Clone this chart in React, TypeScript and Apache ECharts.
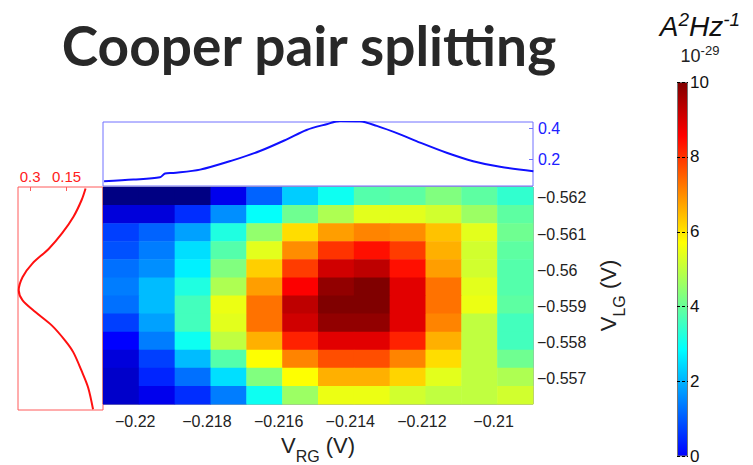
import React, { useEffect, useRef } from "react";
import * as echarts from "echarts";

// ---- Data ----
const vrgCenters = [-0.2204, -0.2194, -0.2184, -0.2174, -0.2164, -0.2154, -0.2144, -0.2134, -0.2124, -0.2114, -0.2104, -0.2094];
const vlgCenters = [-0.56205, -0.56155, -0.56105, -0.56055, -0.56005, -0.55955, -0.55905, -0.55855, -0.55805, -0.55755, -0.55705, -0.55655];
// noise (1e-29 A^2/Hz), rows top (-0.562) to bottom (-0.557), columns left to right
const noise = [
  [-1.4, -1.4, -1.4, -0.2, 1.1, 2.3, 3.0, 3.8, 3.9, 4.3, 3.9, 3.4],
  [-0.4, -0.4, 0.5, 1.6, 2.9, 4.1, 4.8, 5.4, 5.4, 5.2, 4.6, 3.9],
  [0.7, 1.1, 1.8, 3.2, 4.5, 6.1, 6.8, 7.1, 7.0, 6.4, 5.4, 4.1],
  [0.9, 1.4, 2.5, 3.8, 5.4, 7.0, 8.0, 8.4, 7.9, 6.6, 5.2, 3.9],
  [1.25, 1.6, 2.7, 4.3, 6.25, 7.9, 9.1, 9.3, 8.4, 6.8, 5.2, 3.8],
  [1.4, 2.1, 3.2, 4.8, 6.8, 8.6, 9.8, 10.0, 8.9, 7.3, 5.4, 3.8],
  [1.25, 2.1, 3.6, 5.5, 7.3, 9.3, 10.0, 10.0, 8.9, 7.3, 5.5, 3.9],
  [0.7, 1.8, 3.6, 5.4, 7.3, 9.1, 9.8, 9.8, 8.9, 7.1, 5.0, 3.6],
  [0.0, 1.4, 3.0, 5.0, 6.6, 8.2, 8.9, 8.9, 8.2, 6.6, 5.0, 3.6],
  [-0.4, 0.7, 2.1, 3.8, 5.7, 7.1, 7.7, 7.7, 7.1, 6.1, 5.0, 4.1],
  [-0.6, 0.4, 1.25, 2.5, 4.3, 5.7, 6.6, 6.6, 6.2, 5.4, 5.0, 4.8],
  [-0.6, -0.2, 0.5, 1.4, 3.0, 4.6, 5.5, 5.5, 5.2, 5.0, 5.0, 5.2],
];
// top profile (blue) vs V_RG
const topX = [-0.22087, -0.22005, -0.21931, -0.21917, -0.21894, -0.21819, -0.21726, -0.21652, -0.21577, -0.21522, -0.21466, -0.21429, -0.21373, -0.21326, -0.21261, -0.21205, -0.21131, -0.21057, -0.20982, -0.20889];
const topY = [0.06, 0.071, 0.086, 0.11, 0.114, 0.135, 0.196, 0.254, 0.329, 0.389, 0.426, 0.447, 0.445, 0.415, 0.361, 0.308, 0.243, 0.189, 0.153, 0.125];
// left profile (red) vs V_LG
const leftY = [-0.56226, -0.56195, -0.5615, -0.56105, -0.56064, -0.56024, -0.55988, -0.55952, -0.55925, -0.55893, -0.55857, -0.55816, -0.55785, -0.55735, -0.5569, -0.55632];
const leftX = [0.0718, 0.088, 0.1216, 0.169, 0.223, 0.291, 0.331, 0.347, 0.331, 0.277, 0.21, 0.155, 0.122, 0.088, 0.061, 0.041];
const vrgTicks = [-0.22, -0.218, -0.216, -0.214, -0.212, -0.21];
const vlgTicks = [-0.562, -0.561, -0.56, -0.559, -0.558, -0.557];
const topTicks = [0.2, 0.4];
const leftTicks = [0.15, 0.3];
const colorbarMax = [10];

const JET = ["#000080", "#0000ff", "#0080ff", "#00ffff", "#80ff80", "#ffff00", "#ff8000", "#ff0000", "#800000"];
const FONT = "'Liberation Sans', Arial, sans-serif";
const fmt = (v: number) => String(+v.toFixed(4)).replace("-", "\u2212");

export default function App() {
  const ref = useRef<HTMLDivElement>(null);
  useEffect(() => {
    if (!ref.current) return;
    const chart = echarts.init(ref.current, null, { renderer: "svg" });
    const heatData: number[][] = [];
    noise.forEach((row, r) => row.forEach((v, c) => heatData.push([vrgCenters[c], vlgCenters[r], v])));
    const dx = 0.001, dy = 0.0005;
    const barStops = JET.slice(1).map((c, i) => ({ offset: i / (JET.length - 2), color: c }));

    chart.setOption({
      animation: false,
      backgroundColor: "#ffffff",
      grid: [
        { left: 103, top: 187, width: 430, height: 222, show: true, borderColor: "#555", borderWidth: 1 },
        { left: 103, top: 122, width: 430, height: 64, show: true, borderColor: "#7070ff", borderWidth: 1 },
        { left: 18, top: 187, width: 85, height: 223, show: true, borderColor: "#ff5a5a", borderWidth: 1 },
        { left: 677, top: 82, width: 11, height: 378 },
      ],
      xAxis: [
        {
          gridIndex: 0, type: "value", min: -0.2209, max: -0.2089,
          axisLine: { show: false }, axisTick: { show: false }, splitLine: { show: false },
          axisLabel: { customValues: vrgTicks, formatter: fmt, color: "#222", fontSize: 16, fontFamily: FONT, margin: 9 },
          name: "{a|V}{b|RG}{a| (V)}", nameLocation: "middle", nameGap: 30,
          nameTextStyle: {
            rich: {
              a: { fontSize: 22, fontFamily: FONT, color: "#222", lineHeight: 24, verticalAlign: "top" },
              b: { fontSize: 16, fontFamily: FONT, color: "#222", lineHeight: 24, padding: [14, 0, 0, 0], verticalAlign: "top" },
            },
          },
        },
        {
          gridIndex: 1, type: "value", min: -0.2209, max: -0.2089,
          axisLine: { show: false }, axisTick: { show: false }, axisLabel: { show: false }, splitLine: { show: false },
        },
        {
          gridIndex: 2, type: "value", min: 0, max: 0.35, inverse: true, position: "top",
          axisLine: { show: false }, splitLine: { show: false },
          axisTick: { show: true, inside: true, length: 4, customValues: leftTicks, lineStyle: { color: "#ff5a5a" } },
          axisLabel: { customValues: leftTicks, color: "#ff2020", fontSize: 15, fontFamily: FONT, margin: 3 },
        },
        {
          gridIndex: 3, type: "category", data: ["c"], show: false,
        },
      ],
      yAxis: [
        {
          gridIndex: 0, type: "value", min: -0.5623, max: -0.5563, inverse: true, position: "right",
          axisLine: { show: false }, axisTick: { show: false }, splitLine: { show: false },
          axisLabel: { customValues: vlgTicks, formatter: fmt, color: "#222", fontSize: 16, fontFamily: FONT, margin: 4 },
          name: "{a|V}{b|LG}{a| (V)}", nameLocation: "middle", nameRotate: 90, nameGap: 62,
          nameTextStyle: {
            rich: {
              a: { fontSize: 22, fontFamily: FONT, color: "#222", lineHeight: 24, verticalAlign: "top" },
              b: { fontSize: 16, fontFamily: FONT, color: "#222", lineHeight: 24, padding: [14, 0, 0, 0], verticalAlign: "top" },
            },
          },
        },
        {
          gridIndex: 1, type: "value", min: 0.03, max: 0.44, position: "right",
          axisLine: { show: false }, splitLine: { show: false },
          axisTick: { show: true, inside: true, length: 4, customValues: topTicks, lineStyle: { color: "#7070ff" } },
          axisLabel: { customValues: topTicks, color: "#2020ff", fontSize: 16, fontFamily: FONT, margin: 5 },
        },
        {
          gridIndex: 2, type: "value", min: -0.5623, max: -0.5563, inverse: true,
          axisLine: { show: false }, axisTick: { show: false }, axisLabel: { show: false }, splitLine: { show: false },
        },
        {
          gridIndex: 3, type: "value", min: 0, max: 10, interval: 2, position: "right", z: 10,
          axisLine: { show: false }, axisTick: { show: false },
          splitLine: { show: true, lineStyle: { color: "#000", type: [3, 2], width: 1 } },
          axisLabel: { color: "#111", fontSize: 17, fontFamily: FONT, margin: 2 },
        },
      ],
      visualMap: {
        type: "continuous", show: false, min: -1.4286, max: 10, dimension: 2, seriesIndex: 0,
        inRange: { color: JET },
      },
      series: [
        {
          type: "custom", xAxisIndex: 0, yAxisIndex: 0, data: heatData,
          renderItem: (params: any, api: any) => {
            const x = api.value(0), y = api.value(1);
            const p0 = api.coord([x - dx / 2, y - dy / 2]);
            const p1 = api.coord([x + dx / 2, y + dy / 2]);
            return {
              type: "rect",
              shape: {
                x: Math.min(p0[0], p1[0]), y: Math.min(p0[1], p1[1]),
                width: Math.abs(p1[0] - p0[0]) + 0.5, height: Math.abs(p1[1] - p0[1]) + 0.5,
              },
              style: { fill: api.visual("color") },
            };
          },
        },
        {
          type: "line", xAxisIndex: 1, yAxisIndex: 1, data: topX.map((x, i) => [x, topY[i]]),
          showSymbol: false, smooth: 0.3, clip: true, lineStyle: { color: "#1010ff", width: 2 },
        },
        {
          type: "line", xAxisIndex: 2, yAxisIndex: 2, data: leftX.map((x, i) => [x, leftY[i]]),
          showSymbol: false, smooth: 0.3, clip: true, lineStyle: { color: "#ff1010", width: 2 },
        },
        {
          type: "bar", xAxisIndex: 3, yAxisIndex: 3, data: colorbarMax, barWidth: "100%",
          itemStyle: {
            color: new echarts.graphic.LinearGradient(0, 1, 0, 0, barStops),
            borderColor: "#777", borderWidth: 1,
          },
        },
      ],
      graphic: [
        {
          type: "text", x: 309, y: 45,
          style: {
            text: "Cooper pair splitting", fill: "#282828", font: "bold 55px Lato, 'Open Sans', sans-serif",
            textAlign: "center", textVerticalAlign: "middle",
          },
        },
        {
          type: "text", x: 700, y: 24,
          style: {
            text: "{a|A}{s|2}{a|Hz}{s|-1}", textAlign: "center", textVerticalAlign: "middle",
            rich: {
              a: { fontSize: 28, fontStyle: "italic", fontFamily: FONT, fill: "#111", lineHeight: 32, verticalAlign: "bottom" },
              s: { fontSize: 19, fontStyle: "italic", fontFamily: FONT, fill: "#111", lineHeight: 32, padding: [0, 0, 11, 0], verticalAlign: "bottom" },
            },
          },
        },
        {
          type: "text", x: 700, y: 55,
          style: {
            text: "{a|10}{s|-29}", textAlign: "center", textVerticalAlign: "middle",
            rich: {
              a: { fontSize: 18, fontFamily: FONT, fill: "#222", lineHeight: 20, verticalAlign: "bottom" },
              s: { fontSize: 13, fontFamily: FONT, fill: "#222", lineHeight: 20, padding: [0, 0, 8, 0], verticalAlign: "bottom" },
            },
          },
        },
      ],
    });
    return () => chart.dispose();
  }, []);
  return <div ref={ref} style={{ position: "fixed", left: 0, top: 0, width: 753, height: 465 }} />;
}
